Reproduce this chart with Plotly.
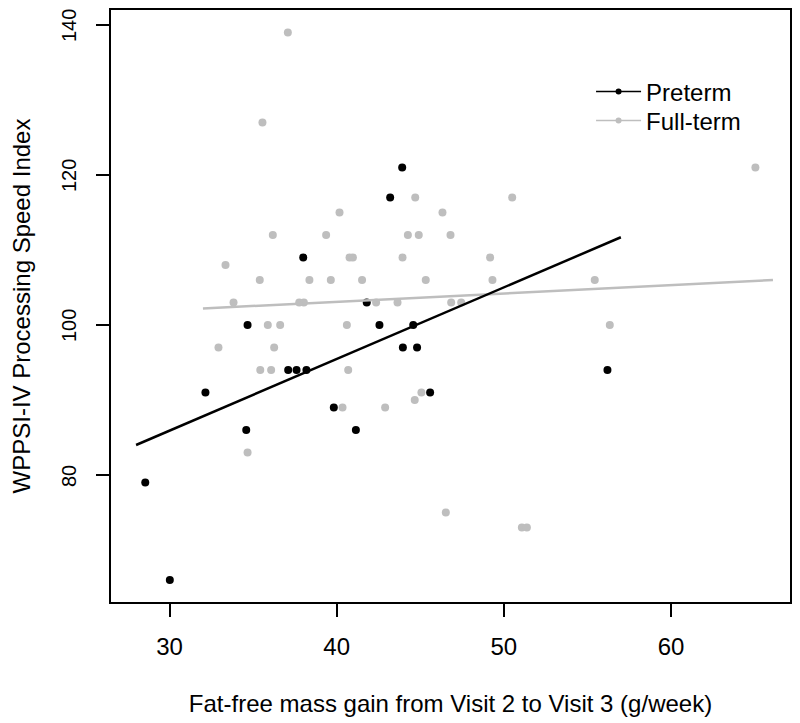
import plotly.graph_objects as go

# Preterm infants (black)
preterm_x = [43.92, 43.20, 38.00, 41.80, 34.67, 42.56, 44.58, 43.96, 44.81, 37.10,
             37.60, 38.19, 32.15, 45.59, 39.83, 34.59, 41.15, 28.55, 30.02, 56.20]
preterm_y = [121, 117, 109, 103, 100, 100, 100, 97, 97, 94,
             94, 94, 91, 91, 89, 86, 86, 79, 66, 94]

# Full-term infants (gray)
fullterm_x = [37.08, 35.56, 44.70, 50.50, 40.17, 46.33, 36.18, 39.37, 44.26, 44.91,
              46.81, 33.35, 40.77, 40.97, 43.94, 49.18, 35.40, 38.37, 39.65, 41.52,
              45.33, 49.32, 55.44, 33.83, 37.76, 38.04, 42.36, 43.64, 46.85, 47.45,
              35.88, 36.62, 40.61, 56.34, 32.93, 36.26, 35.43, 36.08, 40.69, 40.35,
              42.90, 44.67, 45.07, 34.67, 65.05, 46.53, 51.08, 51.38]
fullterm_y = [139, 127, 117, 117, 115, 115, 112, 112, 112, 112,
              112, 108, 109, 109, 109, 109, 106, 106, 106, 106,
              106, 106, 106, 103, 103, 103, 103, 103, 103, 103,
              100, 100, 100, 100, 97, 97, 94, 94, 94, 89,
              89, 90, 91, 83, 121, 75, 73, 73]

# Fitted regression lines (endpoints)
preterm_fit_x = [28.0, 57.0]
preterm_fit_y = [84.0, 111.7]
fullterm_fit_x = [32.0, 66.1]
fullterm_fit_y = [102.2, 106.0]

x_ticks = [30, 40, 50, 60]
y_ticks = [80, 100, 120, 140]
series_names = ["Preterm", "Full-term"]

BLACK = "#000000"
GRAY = "#BEBEBE"
FONT = "Liberation Sans, Arial, sans-serif"

fig = go.Figure()

fig.add_trace(go.Scatter(x=fullterm_x, y=fullterm_y, mode="markers",
                         marker=dict(color=GRAY, size=8, line=dict(width=0)),
                         showlegend=False))
fig.add_trace(go.Scatter(x=preterm_x, y=preterm_y, mode="markers",
                         marker=dict(color=BLACK, size=8, line=dict(width=0)),
                         showlegend=False))
fig.add_trace(go.Scatter(x=fullterm_fit_x, y=fullterm_fit_y, mode="lines",
                         line=dict(color=GRAY, width=2.5), showlegend=False))
fig.add_trace(go.Scatter(x=preterm_fit_x, y=preterm_fit_y, mode="lines",
                         line=dict(color=BLACK, width=2.5), showlegend=False))

# Legend entries (two legends so the row spacing can match)
fig.add_trace(go.Scatter(x=[None], y=[None], mode="lines+markers", name=series_names[0],
                         line=dict(color=BLACK, width=1.5),
                         marker=dict(color=BLACK, size=6), legend="legend"))
fig.add_trace(go.Scatter(x=[None], y=[None], mode="lines+markers", name=series_names[1],
                         line=dict(color=GRAY, width=1.5),
                         marker=dict(color=GRAY, size=6), legend="legend2"))

legend_common = dict(xanchor="left", yanchor="middle", bgcolor="rgba(0,0,0,0)",
                     itemwidth=45, font=dict(size=24, family=FONT, color="black"))

# Rotated y tick labels (R style, parallel to the axis)
y_tick_annotations = [
    dict(x=0, xref="paper", y=v, yref="y", text=str(v), showarrow=False,
         textangle=-90, xanchor="center", yanchor="middle",
         xshift=-42, yshift=-1, borderpad=0,
         font=dict(size=20, family=FONT, color="black"))
    for v in y_ticks
]

fig.update_layout(
    width=792, height=715,
    margin=dict(l=103, r=10, t=2, b=121, autoexpand=False),
    paper_bgcolor="white", plot_bgcolor="white",
    font=dict(family=FONT, size=24, color="black"),
    legend=dict(x=0.707, y=0.8615, **legend_common),
    legend2=dict(x=0.707, y=0.8125, **legend_common),
    annotations=y_tick_annotations,
)

fig.update_xaxes(
    range=[26.5, 67.12], tickvals=x_ticks, ticktext=[str(v) for v in x_ticks],
    showgrid=False, zeroline=False, showline=True, mirror=True,
    linecolor="black", linewidth=1.5,
    ticks="outside", ticklen=13, tickwidth=1.5, tickcolor="black",
    ticklabelstandoff=9,
    title=dict(text="Fat-free mass gain from Visit 2 to Visit 3 (g/week)",
               standoff=37, font=dict(size=24)),
)
fig.update_yaxes(
    range=[63.07, 142.0], tickvals=y_ticks, showticklabels=False,
    showgrid=False, zeroline=False, showline=True, mirror=True,
    linecolor="black", linewidth=1.5,
    ticks="outside", ticklen=13, tickwidth=1.5, tickcolor="black",
    title=dict(text="WPPSI-IV Processing Speed Index", standoff=81, font=dict(size=24)),
)

fig.write_html("out.html")
